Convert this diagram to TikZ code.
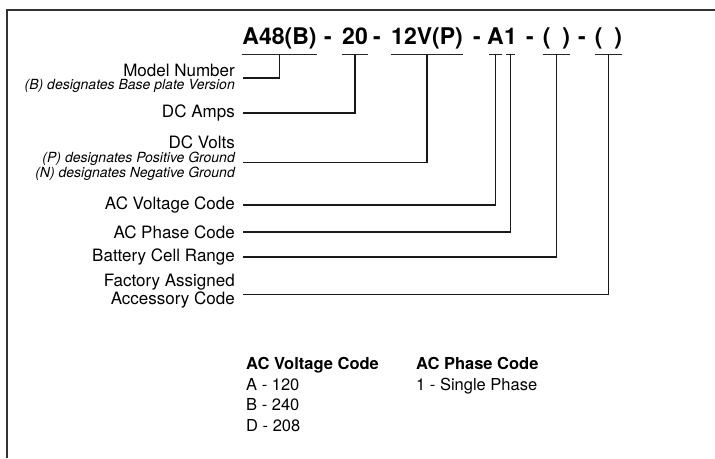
\documentclass[tikz,border=0pt]{standalone}
\usepackage{fontspec}
\setmainfont{TeX Gyre Heros}

\newcommand{\lblfont}{\fontsize{17}{17.7}\selectfont}
\newcommand{\notefont}{\fontsize{14}{15}\selectfont\itshape}

\begin{document}
\begin{tikzpicture}[x=1pt,y=-1pt,
    code/.style={font=\fontsize{23}{23}\selectfont\bfseries, anchor=base, inner xsep=0pt, inner ysep=10pt, text depth=0pt},
    lbl/.style={font=\lblfont, align=right, inner xsep=8pt, inner ysep=1.5pt},
    note/.style={font=\notefont, inner xsep=8pt, inner ysep=0pt},
    bar/.style={line width=1pt, black!85},
    leader/.style={line width=1.2pt, black!90},
    codetab/.style={font=\fontsize{16.5}{20.7}\selectfont, align=left, anchor=north west, inner sep=0pt}]
    \useasboundingbox (0,0) rectangle (715,458);
    \draw[line width=1.3pt, black!80] (7,458) -- (7,10) -- (715,10);

    % model code
    \node[code] (pmdl) at (279.5,44) {A48(B)};
    \node[code] (d1) at (328,44) {-};
    \node[code] (pamp) at (355,44) {20};
    \node[code] (d2) at (377,44) {-};
    \node[code] (pvlt) at (427,44) {12V(P)};
    \node[code] (d3) at (477,44) {-};
    \node[code, inner xsep=-2pt] (pacv) at (495.5,44) {A};
    \node[code, inner xsep=-2pt] (pacp) at (510.5,44) {1};
    \node[code] (d4) at (530,44) {-};
    \node[code] (pbat) at (556.5,44) {(\hspace{12pt})};
    \node[code] (d5) at (582,44) {-};
    \node[code] (pfac) at (608.5,44) {(\hspace{12pt})};
    \foreach \p in {pmdl,pamp,pvlt,pacv,pacp,pbat,pfac}
        \draw[bar] (\p.south west) -- (\p.south east);

    % labels
    \node[lbl, anchor=south east] (mdl) at (243,78) {Model Number};
    \node[note, anchor=base east] (mdlnote) at (243,89.7) {(B) designates Base plate Version};
    \node[lbl, anchor=east] (amp) at (243,113) {DC Amps};
    \node[lbl, anchor=base east] (vlt) at (243,148) {DC Volts};
    \node[note, anchor=base east] (vltp) at (243,162.5) {(P) designates Positive Ground};
    \node[note, anchor=base east] (vltn) at (243,177.3) {(N) designates Negative Ground};
    \node[lbl, anchor=east] (acv) at (243,205) {AC Voltage Code};
    \node[lbl, anchor=east] (acp) at (243,232) {AC Phase Code};
    \node[lbl, anchor=east] (bat) at (243,257) {Battery Cell Range};
    \node[lbl, anchor=east] (fac) at (243,291.5) {Factory Assigned\\Accessory Code};

    \draw[leader] (mdl.south east) -| (pmdl.south);
    \draw[leader] (amp.east) -| (pamp.south);
    \draw[leader] (vltp.base east) -| (pvlt.south);
    \draw[leader] (acv.east) -| (pacv.south);
    \draw[leader] (acp.east) -| (pacp.south);
    \draw[leader] (bat.east) -| (pbat.south);
    \draw[leader] ([yshift=-3pt]fac.east) -| (pfac.south);

    % code tables
    \node[codetab] (vtab) at (246,357) {\textbf{AC Voltage Code}\\A - 120\\B - 240\\D - 208};
    \node[codetab] (ptab) at (416,357) {\textbf{AC Phase Code}\\1 - Single Phase};
\end{tikzpicture}
\end{document}
